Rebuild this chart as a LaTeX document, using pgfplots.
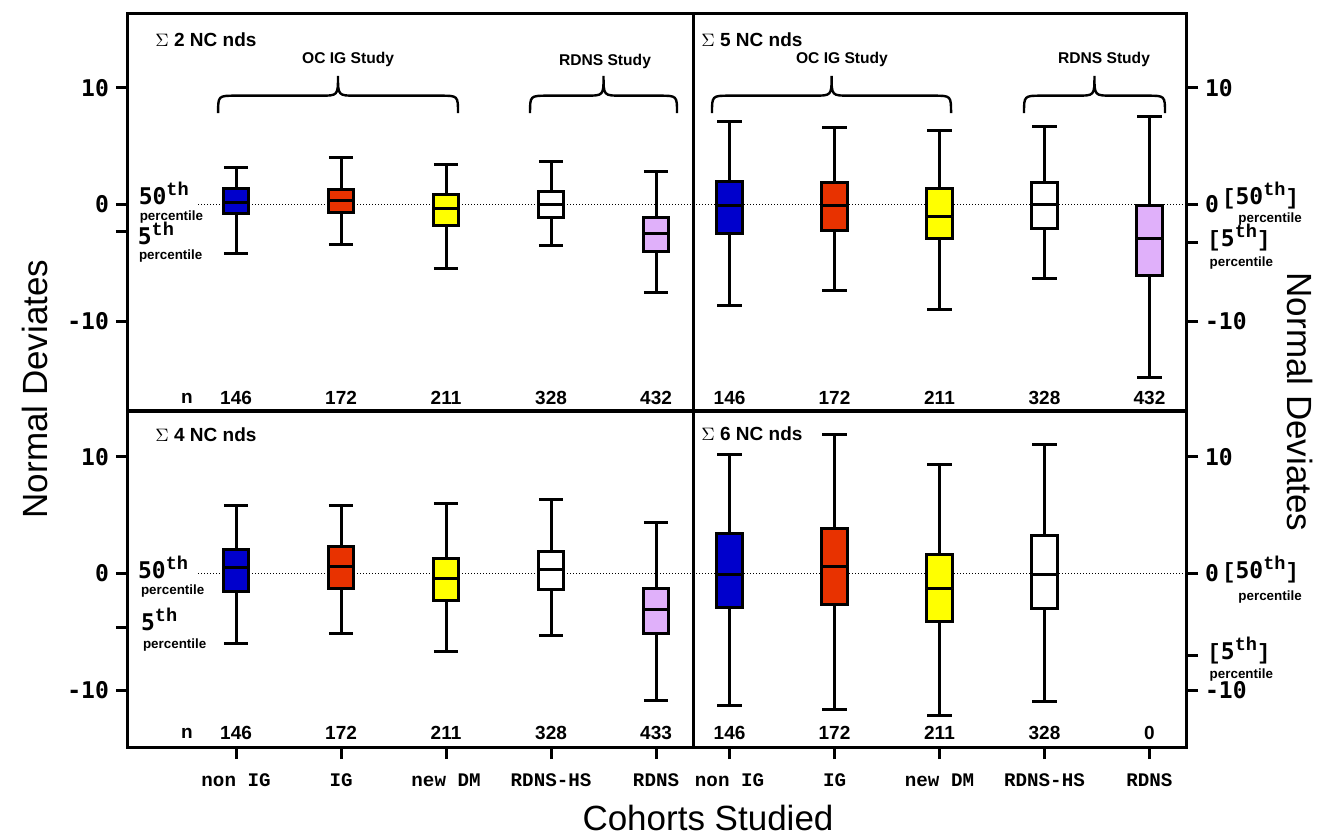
\documentclass[border=0pt]{standalone}
\usepackage{pgfplots}
\pgfplotsset{compat=1.18}
\usepgfplotslibrary{statistics}
\usepackage{fontspec}
\setmainfont{Liberation Sans}
\newfontfamily\tickf{DejaVu Sans Mono}
\newfontfamily\courf{Liberation Mono}
\definecolor{cblue}{RGB}{0,0,204}
\definecolor{cred}{RGB}{232,50,0}
\definecolor{cyel}{RGB}{255,255,0}
\definecolor{cpink}{RGB}{224,176,250}
\newcommand{\tk}{\fontsize{11.5}{12}\selectfont\tickf\bfseries}
\newcommand{\supth}{\raisebox{4.5pt}{\fontsize{9.3}{9.3}\selectfont\courf\bfseries th}}
\newcommand{\brk}[1]{{\fontsize{11}{11}\selectfont\courf\bfseries #1}}
\newcommand{\pct}{\fontsize{6.7}{7}\selectfont\bfseries percentile}
\newcommand{\nf}{\fontsize{9.5}{10}\selectfont\bfseries}
\newcommand{\sgf}{\fontsize{9.5}{10}\selectfont\bfseries}
\newcommand{\brf}{\fontsize{7.8}{8}\selectfont\bfseries}
\newcommand{\bx}[7]{\addplot[draw=black, fill=#2, line width=1.5pt,
  boxplot prepared={draw direction=y, draw position=#1, lower whisker=#3, lower quartile=#4,
  median=#5, upper quartile=#6, upper whisker=#7, box extend=0.245, whisker extend=0.23}]
  coordinates {};}
\pgfplotsset{panel/.style={scale only axis, clip=false,
  axis line style={line width=1.5pt},
  tick align=outside, major tick length=6pt,
  every tick/.style={line width=1.5pt, black},
  yticklabel style={font=\tk},
  xticklabel style={font=\fontsize{9.6}{10}\selectfont\courf\bfseries, yshift=-4pt},
  ytick={-10,0,10}, yticklabels={-10,0,10},
  extra y tick labels={},
  extra y tick style={every tick/.style={line width=1.5pt, black}},
}}
\begin{document}
\begin{tikzpicture}
\useasboundingbox (0,0) rectangle (659.5pt,418pt);
% ---------------- top left (Sigma 2)
\begin{axis}[panel, at={(64pt,212.5pt)}, anchor=south west, width=282.5pt, height=198.5pt,
  xmin=-0.029, xmax=5.352, ymin=-17.71, ymax=16.31, xtick=\empty,
  ytick pos=left, extra y ticks={-2.36}]
\draw[densely dotted, line width=0.5pt] (axis cs:0.638,0) -- (axis cs:5.352,0);
\bx{1}{cblue}{-4.22}{-0.78}{0.17}{1.38}{3.19}
\bx{2}{cred}{-3.45}{-0.72}{0.37}{1.29}{3.97}
\bx{3}{cyel}{-5.46}{-1.84}{-0.34}{0.80}{3.45}
\bx{4}{white}{-3.51}{-1.12}{0.0}{1.14}{3.65}
\bx{5}{cpink}{-7.54}{-4.0}{-2.49}{-1.12}{2.8}
\node[anchor=west, inner sep=0, font=\sgf] at (axis cs:0.229,14.08) {$\Sigma$ 2 NC nds};
\node[font=\brf] at (axis cs:2.067,12.45) {OC IG Study};
\node[font=\brf] at (axis cs:4.514,12.2) {RDNS Study};
\draw[line width=1.2pt] (axis cs:0.829,7.82) .. controls (axis cs:0.829,9.31) .. (axis cs:1.0,9.31) -- (axis cs:1.8,9.31) .. controls (axis cs:1.971,9.31) .. (axis cs:1.971,11.0) .. controls (axis cs:1.971,9.31) .. (axis cs:2.142,9.31) -- (axis cs:2.943,9.31) .. controls (axis cs:3.114,9.31) .. (axis cs:3.114,7.82);
\draw[line width=1.2pt] (axis cs:3.8,7.82) .. controls (axis cs:3.8,9.31) .. (axis cs:3.971,9.31) -- (axis cs:4.329,9.31) .. controls (axis cs:4.5,9.31) .. (axis cs:4.5,11.0) .. controls (axis cs:4.5,9.31) .. (axis cs:4.671,9.31) -- (axis cs:5.029,9.31) .. controls (axis cs:5.2,9.31) .. (axis cs:5.2,7.82);
\node[font=\nf] at (axis cs:0.533,-16.6) {n};
\node[font=\nf] at (axis cs:1,-16.6) {146};
\node[font=\nf] at (axis cs:2,-16.6) {172};
\node[font=\nf] at (axis cs:3,-16.6) {211};
\node[font=\nf] at (axis cs:4,-16.6) {328};
\node[font=\nf] at (axis cs:5,-16.6) {432};
\end{axis}
% ---------------- top right (Sigma 5)
\begin{axis}[panel, at={(346.5pt,212.5pt)}, anchor=south west, width=246.5pt, height=198.5pt,
  xmin=0.652, xmax=5.348, ymin=-17.71, ymax=16.31, xtick=\empty,
  ytick pos=right, extra y ticks={-3.26}]
\draw[densely dotted, line width=0.5pt] (axis cs:0.652,0) -- (axis cs:5.348,0);
\bx{1}{cblue}{-8.71}{-2.46}{-0.1}{1.92}{7.08}
\bx{2}{cred}{-7.36}{-2.23}{-0.1}{1.86}{6.56}
\bx{3}{cyel}{-9.0}{-2.92}{-1.03}{1.32}{6.30}
\bx{4}{white}{-6.39}{-2.03}{0.0}{1.86}{6.65}
\bx{5}{cpink}{-14.84}{-6.13}{-2.89}{-0.06}{7.5}
\node[anchor=west, inner sep=0, font=\sgf] at (axis cs:0.729,14.08) {$\Sigma$ 5 NC nds};
\node[font=\brf] at (axis cs:2.071,12.4) {OC IG Study};
\node[font=\brf] at (axis cs:4.567,12.4) {RDNS Study};
\draw[line width=1.2pt] (axis cs:0.833,7.82) .. controls (axis cs:0.833,9.31) .. (axis cs:1.004,9.31) -- (axis cs:1.801,9.31) .. controls (axis cs:1.972,9.31) .. (axis cs:1.972,11.0) .. controls (axis cs:1.972,9.31) .. (axis cs:2.143,9.31) -- (axis cs:2.939,9.31) .. controls (axis cs:3.11,9.31) .. (axis cs:3.11,7.82);
\draw[line width=1.2pt] (axis cs:3.805,7.82) .. controls (axis cs:3.805,9.31) .. (axis cs:3.976,9.31) -- (axis cs:4.305,9.31) .. controls (axis cs:4.476,9.31) .. (axis cs:4.476,11.0) .. controls (axis cs:4.476,9.31) .. (axis cs:4.647,9.31) -- (axis cs:4.977,9.31) .. controls (axis cs:5.148,9.31) .. (axis cs:5.148,7.82);
\node[font=\nf] at (axis cs:1,-16.6) {146};
\node[font=\nf] at (axis cs:2,-16.6) {172};
\node[font=\nf] at (axis cs:3,-16.6) {211};
\node[font=\nf] at (axis cs:4,-16.6) {328};
\node[font=\nf] at (axis cs:5,-16.6) {432};
\end{axis}
% ---------------- bottom left (Sigma 4)
\begin{axis}[panel, at={(64pt,44.5pt)}, anchor=south west, width=282.5pt, height=168pt,
  xmin=-0.029, xmax=5.352, ymin=-14.88, ymax=13.91,
  xtick={1,2,3,4,5}, xticklabels={non IG,IG,new DM,RDNS-HS,RDNS}, xtick pos=bottom,
  ytick pos=left, extra y ticks={-4.63}]
\draw[densely dotted, line width=0.5pt] (axis cs:0.638,0) -- (axis cs:5.352,0);
\bx{1}{cblue}{-6.0}{-1.57}{0.46}{2.06}{5.83}
\bx{2}{cred}{-5.14}{-1.29}{0.57}{2.29}{5.83}
\bx{3}{cyel}{-6.66}{-2.29}{-0.43}{1.31}{6.0}
\bx{4}{white}{-5.31}{-1.37}{0.34}{1.86}{6.34}
\bx{5}{cpink}{-10.89}{-5.14}{-3.14}{-1.31}{4.37}
\node[anchor=west, inner sep=0, font=\sgf] at (axis cs:0.229,11.85) {$\Sigma$ 4 NC nds};
\node[font=\nf] at (axis cs:0.533,-13.68) {n};
\node[font=\nf] at (axis cs:1,-13.68) {146};
\node[font=\nf] at (axis cs:2,-13.68) {172};
\node[font=\nf] at (axis cs:3,-13.68) {211};
\node[font=\nf] at (axis cs:4,-13.68) {328};
\node[font=\nf] at (axis cs:5,-13.68) {433};
\end{axis}
% ---------------- bottom right (Sigma 6)
\begin{axis}[panel, at={(346.5pt,44.5pt)}, anchor=south west, width=246.5pt, height=168pt,
  xmin=0.652, xmax=5.348, ymin=-14.88, ymax=13.91,
  xtick={1,2,3,4,5}, xticklabels={non IG,IG,new DM,RDNS-HS,RDNS}, xtick pos=bottom,
  ytick pos=right, extra y ticks={-7.0}]
\draw[densely dotted, line width=0.5pt] (axis cs:0.652,0) -- (axis cs:5.348,0);
\bx{1}{cblue}{-11.3}{-2.94}{-0.06}{3.43}{10.2}
\bx{2}{cred}{-11.66}{-2.66}{0.57}{3.83}{11.9}
\bx{3}{cyel}{-12.14}{-4.11}{-1.31}{1.63}{9.34}
\bx{4}{white}{-10.97}{-3.03}{-0.14}{3.23}{11.06}
\node[anchor=west, inner sep=0, font=\sgf] at (axis cs:0.729,12.0) {$\Sigma$ 6 NC nds};
\node[font=\nf] at (axis cs:1,-13.68) {146};
\node[font=\nf] at (axis cs:2,-13.68) {172};
\node[font=\nf] at (axis cs:3,-13.68) {211};
\node[font=\nf] at (axis cs:4,-13.68) {328};
\node[font=\nf] at (axis cs:5,-13.68) {0};
\end{axis}
% ---------------- percentile annotations
\node[anchor=base west, inner sep=0] at (69.2pt,315.85pt) {{\tk 50}\supth};
\node[anchor=west, inner sep=0] at (69.7pt,309.5pt) {\pct};
\node[anchor=base west, inner sep=0] at (68.7pt,295.8pt) {{\tk 5}\supth};
\node[anchor=west, inner sep=0] at (69.3pt,289.8pt) {\pct};
\node[anchor=base west, inner sep=0] at (68.85pt,128.85pt) {{\tk 50}\supth};
\node[anchor=west, inner sep=0] at (70.3pt,122.5pt) {\pct};
\node[anchor=base west, inner sep=0] at (70.3pt,102.5pt) {{\tk 5}\supth};
\node[anchor=west, inner sep=0] at (71.3pt,95.5pt) {\pct};
\node[anchor=base west, inner sep=0] at (611pt,315.5pt) {\brk{[}{\tk 50}\supth\brk{]}};
\node[anchor=west, inner sep=0] at (619pt,308.3pt) {\pct};
\node[anchor=base west, inner sep=0] at (603.65pt,294.5pt) {\brk{[}{\tk 5}\supth\brk{]}};
\node[anchor=west, inner sep=0] at (604.65pt,286.3pt) {\pct};
\node[anchor=base west, inner sep=0] at (611pt,128.5pt) {\brk{[}{\tk 50}\supth\brk{]}};
\node[anchor=west, inner sep=0] at (619pt,119.5pt) {\pct};
\node[anchor=base west, inner sep=0] at (603.65pt,88pt) {\brk{[}{\tk 5}\supth\brk{]}};
\node[anchor=west, inner sep=0] at (604.65pt,80.6pt) {\pct};
% ---------------- axis titles
\node[rotate=90, font=\fontsize{17.5}{18}\selectfont] at (17.5pt,223.5pt) {Normal Deviates};
\node[rotate=-90, font=\fontsize{17.5}{18}\selectfont] at (650pt,217pt) {Normal Deviates};
\node[font=\fontsize{17.5}{18}\selectfont] at (354pt,9pt) {Cohorts Studied};
\end{tikzpicture}
\end{document}
